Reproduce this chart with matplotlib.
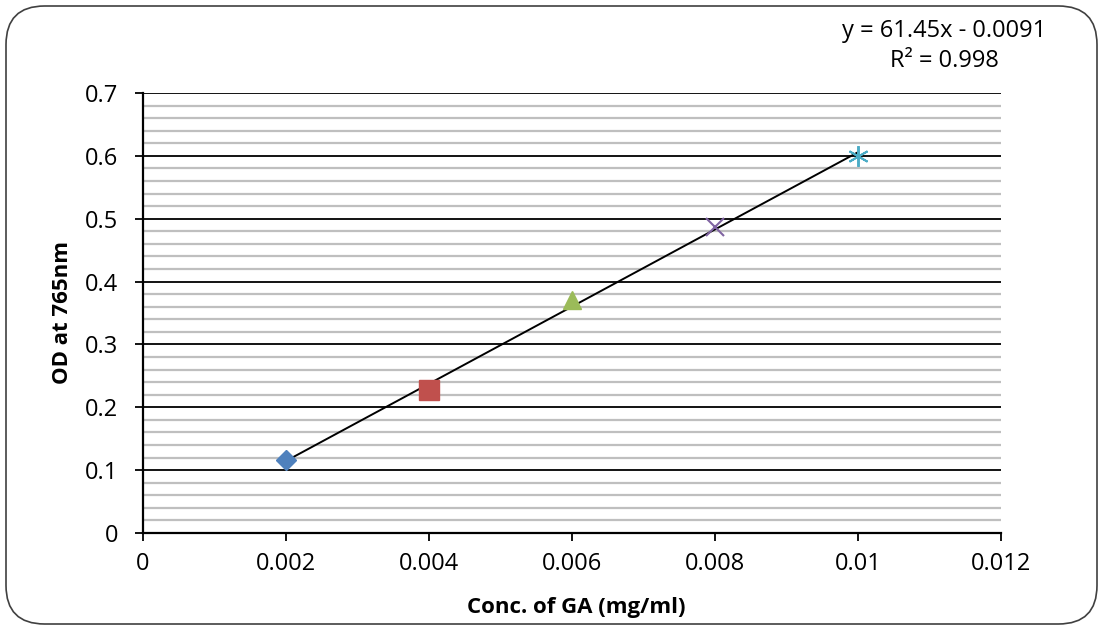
import numpy as np
import matplotlib.pyplot as plt
from matplotlib.patches import FancyBboxPatch

conc = [0.002, 0.004, 0.006, 0.008, 0.010]
od = [0.116, 0.227, 0.371, 0.487, 0.600]
colors = ['#4F81BD', '#C0504D', '#9BBB59', '#8064A2', '#4BACC6']
markers = ['D', 's', '^', 'x', '*']
sizes = [10, 14, 13, 13, 15]

plt.rcParams['font.family'] = ['Open Sans', 'DejaVu Sans']

fig = plt.figure(figsize=(11.03, 6.3), dpi=100)
ax = fig.add_axes([143 / 1103, (630 - 533) / 630, (1001 - 143) / 1103, (533 - 93) / 630])

# rounded chart border
fig.patches.append(FancyBboxPatch((6 / 1103, 6 / 630), 1091 / 1103, 618 / 630,
                                  boxstyle='round,pad=0,rounding_size=0.035',
                                  transform=fig.transFigure, fill=False,
                                  edgecolor='#404040', linewidth=1.2,
                                  mutation_aspect=1103 / 630))

ax.set_xlim(0, 0.012)
ax.set_ylim(0, 0.7)
ax.set_xticks(np.arange(0, 0.0121, 0.002))
ax.set_xticklabels(['0', '0.002', '0.004', '0.006', '0.008', '0.01', '0.012'])
ax.set_yticks(np.arange(0, 0.71, 0.1))
ax.set_yticklabels(['0', '0.1', '0.2', '0.3', '0.4', '0.5', '0.6', '0.7'])
ax.set_yticks(np.arange(0, 0.7, 0.02), minor=True)
ax.grid(which='minor', axis='y', color='#BFBFBF', linewidth=1.6)
ax.grid(which='major', axis='y', color='black', linewidth=1.3)
ax.tick_params(axis='y', which='minor', length=0)
ax.tick_params(which='major', direction='out', length=6, width=1.3, labelsize=17)
ax.tick_params(axis='x', pad=8)
ax.tick_params(axis='y', pad=12)
for s in ['top', 'right']:
    ax.spines[s].set_visible(False)
for s in ['left', 'bottom']:
    ax.spines[s].set_linewidth(1.6)
ax.set_axisbelow(True)

# trendline
k, b = np.polyfit(conc, od, 1)
xt = np.array([conc[0], conc[-1]])
ax.plot(xt, k * xt + b, color='black', linewidth=1.4, zorder=3)

for x, y, c, m, s in zip(conc, od, colors, markers, sizes):
    if m == 'x':
        ax.plot(x, y, marker=m, color=c, markersize=s, markeredgewidth=1.5, zorder=4)
    elif m == '*':
        ax.plot(x, y, marker=(6, 2, 0), color=c, markersize=s, markeredgewidth=1.4, zorder=4)
    else:
        ax.plot(x, y, marker=m, color=c, markersize=s, linestyle='none', zorder=4)

ax.set_xlabel('Conc. of GA (mg/ml)', fontsize=16, fontweight='bold')
ax.set_ylabel('OD at 765nm', fontsize=16, fontweight='bold')
ax.xaxis.set_label_coords(0.5 * (468 + 685) / 1103, 1 - 607 / 630, transform=fig.transFigure)
ax.yaxis.set_label_coords(63 / 1103, 1 - 312 / 630, transform=fig.transFigure)
ax.xaxis.label.set_va('center')
ax.yaxis.label.set_va('center')

fig.text(944 / 1103, 1 - 31 / 630, 'y = 61.45x - 0.0091', ha='center', va='center', fontsize=17)
fig.text(944 / 1103, 1 - 61 / 630, 'R² = 0.998', ha='center', va='center', fontsize=17)

fig.savefig('out.png', dpi=100)
